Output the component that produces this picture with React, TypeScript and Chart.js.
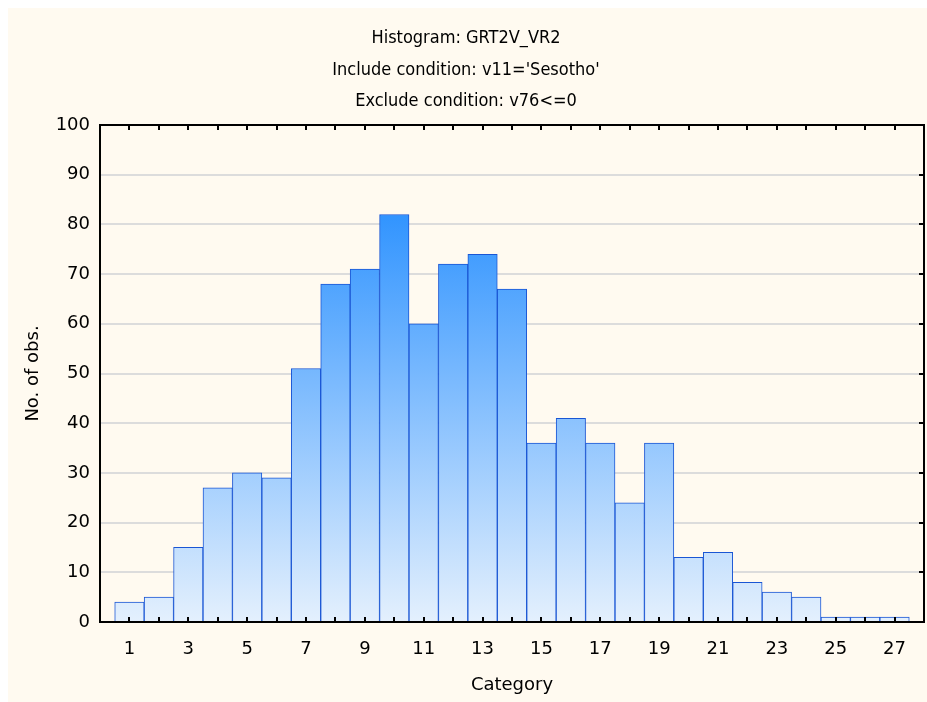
import React, { useEffect, useRef } from "react";
import { Chart, registerables } from "chart.js";

Chart.register(...registerables);

const titleLines = ["Histogram: GRT2V_VR2", "Include condition: v11='Sesotho'", "Exclude condition: v76<=0"];
const categories = [1, 2, 3, 4, 5, 6, 7, 8, 9, 10, 11, 12, 13, 14, 15, 16, 17, 18, 19, 20, 21, 22, 23, 24, 25, 26, 27];
const counts = [4, 5, 15, 27, 30, 29, 51, 68, 71, 82, 60, 72, 74, 67, 36, 41, 36, 24, 36, 13, 14, 8, 6, 5, 1, 1, 1];
const xTickLabels = ["1", "3", "5", "7", "9", "11", "13", "15", "17", "19", "21", "23", "25", "27"];
const xAxisTitle = "Category";
const yAxisTitle = "No. of obs.";

const FONT = "'DejaVu Sans', Verdana, sans-serif";
const TITLE_FONT = "'DejaVu Sans Condensed', 'Liberation Sans Narrow', 'DejaVu Sans', sans-serif";

const framePlugin = {
  id: "frame",
  afterDraw(chart: any) {
    const { ctx, chartArea, scales } = chart;
    const { left, right, top, bottom } = chartArea;
    ctx.save();
    ctx.strokeStyle = "#000";
    ctx.lineWidth = 2;
    const tick = 5;
    ctx.beginPath();
    scales.x.ticks.forEach((t: any) => {
      if (t.value <= scales.x.min || t.value >= scales.x.max) return;
      const px = Math.round(scales.x.getPixelForValue(t.value));
      ctx.moveTo(px, bottom);
      ctx.lineTo(px, bottom - tick);
      ctx.moveTo(px, top);
      ctx.lineTo(px, top + tick);
    });
    scales.y.ticks.forEach((t: any) => {
      if (t.value <= scales.y.min || t.value >= scales.y.max) return;
      const py = Math.round(scales.y.getPixelForValue(t.value));
      ctx.moveTo(right, py);
      ctx.lineTo(right - tick, py);
    });
    ctx.stroke();
    ctx.strokeRect(left, top, right - left, bottom - top);
    ctx.restore();
  },
};

export default function App() {
  const ref = useRef<HTMLCanvasElement>(null);
  useEffect(() => {
    document.body.style.margin = "8px 0 0 8px";
    document.body.style.overflow = "hidden";
    const canvas = ref.current!;
    const chart = new Chart(canvas, {
      type: "bar",
      data: {
        datasets: [
          {
            data: categories.map((c, i) => ({ x: c, y: counts[i] })),
            backgroundColor: (ctx: any) => {
              const ca = ctx.chart.chartArea;
              if (!ca) return "#8fc2fb";
              const g = ctx.chart.ctx.createLinearGradient(0, ca.bottom, 0, ca.top);
              g.addColorStop(0, "#E4F0FD");
              g.addColorStop(1, "#0A80FF");
              return g;
            },
            borderColor: "#1A56D4",
            borderWidth: 1,
            barPercentage: 1,
            categoryPercentage: 1,
          },
        ],
      },
      options: {
        animation: false,
        responsive: true,
        maintainAspectRatio: false,
        devicePixelRatio: 1,
        layout: { padding: { left: 0, right: 3, top: 0, bottom: 0 } },
        plugins: {
          legend: { display: false },
          tooltip: { enabled: false },
          title: {
            display: true,
            text: titleLines,
            color: "#000",
            font: { family: TITLE_FONT, size: 18, weight: "normal", lineHeight: 1.75 },
            padding: { top: 15, bottom: 7.5 },
          },
        },
        scales: {
          x: {
            type: "linear",
            offset: false,
            min: 0,
            max: 28,
            afterFit: (s: any) => {
              s.height = 80;
              s.paddingLeft = 0;
              s.paddingRight = 0;
            },
            grid: { display: false, drawTicks: false, offset: false },
            border: { display: false },
            ticks: {
              stepSize: 1,
              autoSkip: false,
              maxRotation: 0,
              padding: 17,
              color: "#000",
              font: { family: FONT, size: 18 },
              callback: (v: any) => (xTickLabels.includes(String(v)) ? String(v) : ""),
            },
            title: {
              display: true,
              text: xAxisTitle,
              color: "#000",
              font: { family: FONT, size: 18 },
              padding: { top: 0, bottom: 6 },
            },
          },
          y: {
            min: 0,
            max: 100,
            afterFit: (s: any) => {
              s.width = 92;
            },
            grid: { color: "#DCDCDC", lineWidth: 2, drawTicks: false },
            border: { display: false },
            ticks: {
              stepSize: 10,
              padding: 10,
              color: "#000",
              font: { family: FONT, size: 18 },
            },
            title: {
              display: true,
              text: yAxisTitle,
              color: "#000",
              font: { family: FONT, size: 18 },
              padding: { top: 15, bottom: 0 },
            },
          },
        },
      },
      plugins: [framePlugin],
    } as any);
    return () => chart.destroy();
  }, []);
  return (
    <div style={{ position: "relative", width: 919, height: 694, background: "#FFFAF0" }}>
      <canvas ref={ref} />
    </div>
  );
}
